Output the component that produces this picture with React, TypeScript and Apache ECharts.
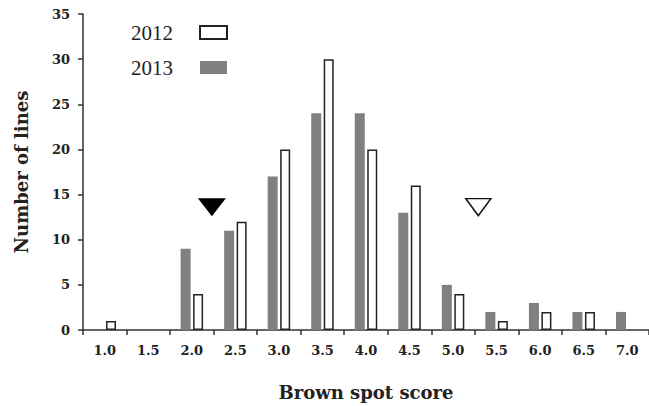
import React, { useEffect, useRef } from "react";
import * as echarts from "echarts";

const categories = ["1.0", "1.5", "2.0", "2.5", "3.0", "3.5", "4.0", "4.5", "5.0", "5.5", "6.0", "6.5", "7.0"];
const counts2012 = [1, 0, 4, 12, 20, 30, 20, 16, 4, 1, 2, 2, 0];
const counts2013 = [0, 0, 9, 11, 17, 24, 24, 13, 5, 2, 3, 2, 2];
// mean scores marked by triangles (score, height on count axis)
const mean2013 = [2.23, 13.6];
const mean2012 = [5.29, 13.6];
const yTicks = { min: 0, max: 35, interval: 5 };

const SERIF = "'DejaVu Serif', serif";

export default function App() {
  const ref = useRef<HTMLDivElement>(null);
  useEffect(() => {
    if (!ref.current) return;
    const chart = echarts.init(ref.current, null, { renderer: "svg" });
    const toData = (a: number[]) => a.map((v) => (v === 0 ? "-" : v));
    chart.setOption({
      animation: false,
      backgroundColor: "#ffffff",
      grid: { left: 83, top: 14, bottom: 74, right: -3, containLabel: false },
      legend: {
        data: [
          { name: "2012", icon: "rect" },
          { name: "2013", icon: "rect" },
        ],
        orient: "vertical",
        align: "right",
        left: 131,
        top: 22,
        padding: 0,
        itemWidth: 27,
        itemHeight: 13,
        itemGap: 14,
        selectedMode: false,
        textStyle: {
          fontFamily: "'Liberation Serif', serif",
          fontSize: 21,
          lineHeight: 21,
          color: "#222",
          padding: [0, 22, 0, 0],
        },
      },
      xAxis: [
        {
          type: "category",
          data: categories,
          boundaryGap: true,
          name: "Brown spot score",
          nameLocation: "middle",
          nameGap: 53,
          nameTextStyle: { fontFamily: SERIF, fontWeight: "bold", fontSize: 18, color: "#222" },
          axisLine: { lineStyle: { color: "#333", width: 1.5 } },
          axisTick: { show: true, length: 5, lineStyle: { color: "#333", width: 1.5 } },
          axisLabel: { fontFamily: SERIF, fontWeight: "bold", fontSize: 13, color: "#222", margin: 14 },
          splitLine: { show: false },
        },
        {
          type: "value",
          min: 0.75,
          max: 7.25,
          show: false,
          splitLine: { show: false },
        },
      ],
      yAxis: {
        type: "value",
        min: yTicks.min,
        max: yTicks.max,
        interval: yTicks.interval,
        name: "Number of lines",
        nameLocation: "middle",
        nameGap: 53,
        nameTextStyle: { fontFamily: SERIF, fontWeight: "bold", fontSize: 18, color: "#222" },
        axisLine: { show: true, lineStyle: { color: "#333", width: 1.5 } },
        axisTick: { show: true, length: 5, lineStyle: { color: "#333", width: 1.5 } },
        axisLabel: { fontFamily: SERIF, fontWeight: "bold", fontSize: 13, color: "#222", margin: 13 },
        splitLine: { show: false },
      },
      series: [
        {
          name: "2013",
          type: "bar",
          data: toData(counts2013),
          barWidth: 10,
          barGap: "25%",
          itemStyle: { color: "#808080" },
        },
        {
          name: "2012",
          type: "bar",
          data: toData(counts2012),
          barWidth: 10,
          itemStyle: { color: "#ffffff", borderColor: "#222", borderWidth: 1.5 },
        },
        {
          name: "mean2013",
          type: "scatter",
          xAxisIndex: 1,
          data: [mean2013],
          symbol: "triangle",
          symbolRotate: 180,
          symbolSize: [28, 18],
          itemStyle: { color: "#000", opacity: 1 },
        },
        {
          name: "mean2012",
          type: "scatter",
          xAxisIndex: 1,
          data: [mean2012],
          symbol: "triangle",
          symbolRotate: 180,
          symbolSize: [25, 17],
          itemStyle: { color: "#ffffff", borderColor: "#111", borderWidth: 1.5, opacity: 1 },
        },
      ],
    });
    return () => chart.dispose();
  }, []);
  return <div ref={ref} style={{ width: 649, height: 406, position: "absolute", left: 0, top: 0 }} />;
}
